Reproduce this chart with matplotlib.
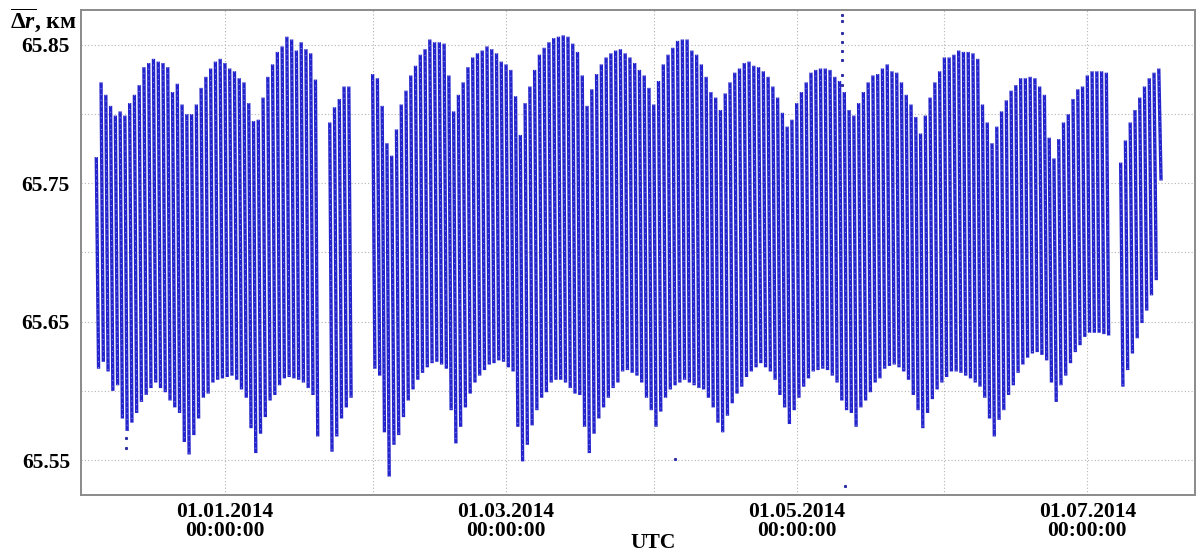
import matplotlib
matplotlib.use("Agg")
import matplotlib.pyplot as plt
import matplotlib.dates as mdates
from matplotlib.collections import LineCollection
import numpy as np

plt.rcParams['font.family'] = ['Liberation Serif', 'DejaVu Serif']
plt.rcParams['font.weight'] = 'bold'
plt.rcParams['mathtext.fontset'] = 'custom'
plt.rcParams['mathtext.rm'] = 'Liberation Serif'
plt.rcParams['mathtext.it'] = 'Liberation Serif:italic'

# daily span of the measurements, km (None = no data that day)
first_day = "2013-12-05"
upper = [
    # Dec 5..31
    65.769, 65.823, 65.814, 65.806, 65.799, 65.802, 65.799, 65.808, 65.814, 65.821,
    65.834, 65.837, 65.840, 65.838, 65.837, 65.834, 65.816, 65.822, 65.807, 65.800,
    65.800, 65.807, 65.819, 65.827, 65.833, 65.838, 65.840,
    # Jan
    65.837, 65.833, 65.831, 65.826, 65.823, 65.808, 65.795, 65.796, 65.812, 65.827,
    65.836, 65.845, 65.849, 65.856, 65.854, 65.846, 65.852, 65.847, 65.844, 65.825,
    None, None, 65.794, 65.805, 65.811, 65.820, 65.820, None, None, None, None,
    # Feb
    65.829, 65.826, 65.806, 65.779, 65.770, 65.789, 65.807, 65.817, 65.828, 65.835,
    65.843, 65.847, 65.854, 65.852, 65.852, 65.851, 65.828, 65.802, 65.814, 65.823,
    65.834, 65.841, 65.844, 65.846, 65.849, 65.847, 65.844, 65.838,
    # Mar
    65.836, 65.832, 65.813, 65.785, 65.808, 65.820, 65.832, 65.843, 65.848, 65.852,
    65.855, 65.856, 65.857, 65.856, 65.851, 65.845, 65.828, 65.806, 65.818, 65.829,
    65.836, 65.841, 65.844, 65.846, 65.847, 65.844, 65.841, 65.837, 65.832, 65.828,
    65.819,
    # Apr
    65.807, 65.824, 65.836, 65.843, 65.848, 65.853, 65.854, 65.854, 65.846, 65.843,
    65.836, 65.827, 65.816, 65.812, 65.803, 65.815, 65.823, 65.830, 65.833, 65.837,
    65.838, 65.835, 65.834, 65.831, 65.827, 65.820, 65.812, 65.801, 65.791, 65.796,
    # May
    65.808, 65.816, 65.823, 65.830, 65.832, 65.833, 65.833, 65.832, 65.827, 65.824,
    65.816, 65.803, 65.799, 65.808, 65.816, 65.823, 65.828, 65.829, 65.833, 65.836,
    65.831, 65.830, 65.823, 65.814, 65.807, 65.798, 65.786, 65.799, 65.812, 65.823,
    65.831,
    # Jun
    65.841, 65.841, 65.843, 65.846, 65.845, 65.845, 65.844, 65.840, 65.807, 65.794,
    65.779, 65.791, 65.802, 65.810, 65.817, 65.821, 65.826, 65.826, 65.827, 65.826,
    65.820, 65.814, 65.783, 65.768, 65.782, 65.794, 65.800, 65.811, 65.818, 65.820,
    # Jul 1..16
    65.828, 65.831, 65.831, 65.831, 65.830, None, None, 65.765, 65.781, 65.794,
    65.803, 65.812, 65.820, 65.826, 65.830, 65.833,
]
lower = [
    # Dec 5..31
    65.616, 65.621, 65.614, 65.600, 65.604, 65.580, 65.571, 65.577, 65.584, 65.592,
    65.597, 65.602, 65.606, 65.602, 65.599, 65.593, 65.588, 65.584, 65.563, 65.554,
    65.568, 65.580, 65.595, 65.598, 65.606, 65.608, 65.609,
    # Jan
    65.610, 65.611, 65.608, 65.601, 65.595, 65.573, 65.555, 65.569, 65.581, 65.593,
    65.597, 65.604, 65.609, 65.610, 65.609, 65.608, 65.606, 65.602, 65.597, 65.567,
    None, None, 65.556, 65.567, 65.580, 65.588, 65.595, None, None, None, None,
    # Feb
    65.616, 65.611, 65.570, 65.538, 65.561, 65.568, 65.581, 65.593, 65.601, 65.608,
    65.613, 65.617, 65.620, 65.621, 65.619, 65.616, 65.586, 65.562, 65.574, 65.588,
    65.598, 65.606, 65.611, 65.615, 65.619, 65.620, 65.622, 65.621,
    # Mar
    65.617, 65.614, 65.574, 65.549, 65.561, 65.575, 65.586, 65.595, 65.599, 65.606,
    65.608, 65.608, 65.606, 65.602, 65.598, 65.597, 65.574, 65.555, 65.569, 65.580,
    65.588, 65.595, 65.602, 65.606, 65.614, 65.615, 65.613, 65.611, 65.606, 65.595,
    65.586,
    # Apr
    65.574, 65.585, 65.595, 65.601, 65.604, 65.606, 65.608, 65.606, 65.604, 65.602,
    65.601, 65.595, 65.588, 65.577, 65.570, 65.582, 65.591, 65.598, 65.603, 65.610,
    65.614, 65.617, 65.620, 65.617, 65.614, 65.608, 65.597, 65.588, 65.576, 65.586,
    # May
    65.595, 65.603, 65.609, 65.614, 65.615, 65.616, 65.615, 65.611, 65.606, 65.593,
    65.586, 65.584, 65.574, 65.588, 65.593, 65.599, 65.606, 65.609, 65.616, 65.618,
    65.619, 65.617, 65.614, 65.608, 65.597, 65.586, 65.573, 65.584, 65.594, 65.601,
    65.606,
    # Jun
    65.610, 65.614, 65.614, 65.613, 65.611, 65.609, 65.606, 65.603, 65.595, 65.580,
    65.567, 65.579, 65.586, 65.597, 65.604, 65.613, 65.619, 65.624, 65.627, 65.628,
    65.626, 65.622, 65.606, 65.592, 65.604, 65.611, 65.620, 65.628, 65.633, 65.639,
    # Jul 1..16
    65.642, 65.642, 65.642, 65.641, 65.640, None, None, 65.603, 65.615, 65.627,
    65.638, 65.649, 65.658, 65.669, 65.680, 65.752,
]

# stray single points
stray_times = ["2013-12-11T06:00", "2013-12-11T06:00", "2014-04-05T10:00",
               "2014-05-10T14:00", "2014-05-10T14:00", "2014-05-10T14:00",
               "2014-05-10T14:00", "2014-05-10T14:00", "2014-05-10T14:00",
               "2014-05-10T14:00", "2014-05-10T14:00", "2014-05-11T02:00"]
stray_vals = [65.566, 65.559, 65.551,
              65.872, 65.867, 65.859, 65.852, 65.846, 65.839, 65.828, 65.821,
              65.531]

ytick_vals = [65.55, 65.60, 65.65, 65.70, 65.75, 65.80, 65.85]
ytick_text = ["65.55", "", "65.65", "", "65.75", "", "65.85"]

W, H = 1197, 553
fig = plt.figure(figsize=(W / 100, H / 100), dpi=100)
ax = fig.add_axes([81 / W, 1 - 495 / H, (1195 - 81) / W, (495 - 10) / H])

days = np.datetime64(first_day) + np.arange(len(upper))
d0 = mdates.date2num(days.astype('datetime64[s]'))
up = np.array(upper, dtype=float)
lo = np.array(lower, dtype=float)
ok = ~np.isnan(up)

# each daily pass runs from its top value down to its bottom value a few hours later
x_top = d0[ok] + 0.02
x_bot = d0[ok] + 0.5
segs = np.stack([np.column_stack([x_top, up[ok]]),
                 np.column_stack([x_bot, lo[ok]])], axis=1)
ax.add_collection(LineCollection(segs, colors='#2424cc', linewidths=2.4, zorder=3))
ax.add_collection(LineCollection(segs, colors='white', linewidths=0.7,
                                 linestyles=(0, (1, 5)), alpha=0.55, zorder=4))

sx = mdates.date2num(np.array(stray_times, dtype='datetime64[s]'))
ax.plot(sx, stray_vals, 's', ms=1.2, color='#3030a0', zorder=3)

ax.set_xlim(mdates.date2num(np.datetime64('2013-12-01T19:30:00')),
            mdates.date2num(np.datetime64('2014-07-23T15:00:00')))
ax.set_ylim(65.5247, 65.8753)

ax.xaxis.set_major_locator(mdates.MonthLocator())


def month_label(v, pos):
    d = mdates.num2date(v)
    if d.month % 2 == 1:
        return d.strftime('%d.%m.%Y') + '\n00:00:00'
    return ''


ax.xaxis.set_major_formatter(plt.FuncFormatter(month_label))
ax.set_yticks(ytick_vals)
ax.set_yticklabels(ytick_text)

ax.tick_params(axis='both', length=0, labelsize=15.5)
ax.tick_params(axis='x', pad=5)
ax.tick_params(axis='y', pad=8)
for lab in ax.get_xticklabels():
    lab.set_linespacing(0.95)

ax.grid(True, color='#b4b4b4', linestyle=(0, (1, 2)), linewidth=0.8, zorder=0)
ax.set_axisbelow(True)
for s in ax.spines.values():
    s.set_color('#8a8a8a')
    s.set_linewidth(1.4)
    s.set_linestyle((0, (2, 1)))

fig.text(10 / W, 1 - 20 / H, r'$\overline{\Delta r}$, км', fontsize=17,
         fontweight='bold', va='center', ha='left')
fig.text(653 / W, 1 - 543 / H, 'UTC', fontsize=15.5, fontweight='bold',
         va='center', ha='center')

fig.savefig('out.png', dpi=100)
